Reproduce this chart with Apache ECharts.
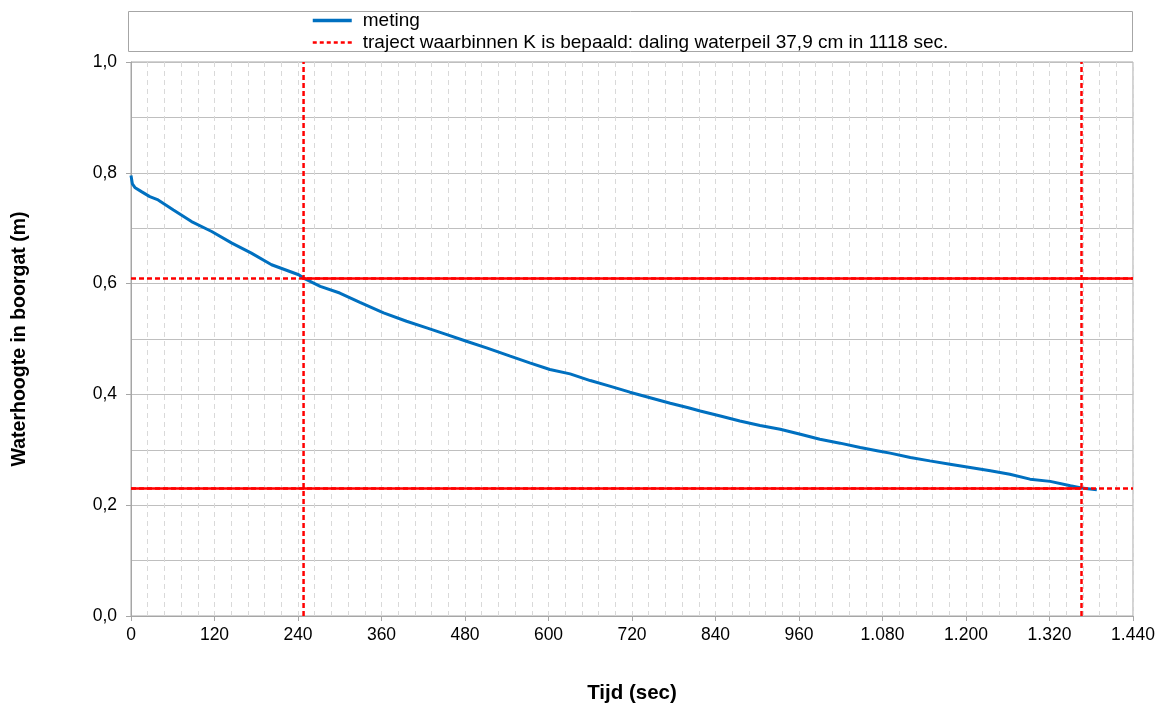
<!DOCTYPE html>
<html>
<head>
<meta charset="utf-8">
<script src="https://cdn.jsdelivr.net/npm/echarts@6/dist/echarts.min.js"></script>
<style>
  html, body { margin: 0; padding: 0; background: #fff; }
  #chart { width: 1169px; height: 709px; }
</style>
</head>
<body>
<div id="chart"></div>
<script>
// Falling-head test: water level in the borehole over time
const timeSec = [0, 2, 6, 15, 27, 39, 61, 87, 116, 145, 173, 202, 241, 248, 272, 300, 329, 363,
  396, 425, 454, 482, 511, 545, 573, 602, 631, 660, 688, 717, 746, 775, 801, 818, 847, 875,
  904, 933, 962, 990, 1019, 1048, 1074, 1091, 1120, 1148, 1177, 1206, 1235, 1263, 1292,
  1321, 1350, 1366, 1388];
const levelM = [0.795, 0.780, 0.773, 0.766, 0.757, 0.751, 0.733, 0.712, 0.694, 0.673, 0.655,
  0.634, 0.616, 0.610, 0.595, 0.583, 0.566, 0.547, 0.532, 0.520, 0.508, 0.496, 0.484, 0.469,
  0.457, 0.445, 0.437, 0.425, 0.415, 0.404, 0.394, 0.384, 0.376, 0.370, 0.361, 0.352, 0.344,
  0.337, 0.328, 0.319, 0.312, 0.304, 0.298, 0.294, 0.286, 0.280, 0.274, 0.268, 0.262, 0.256,
  0.247, 0.243, 0.235, 0.231, 0.228];

// Interval used to determine K
const rangeStartSec = 248;
const rangeEndSec = 1366;
const rangeTopM = 0.609;
const rangeBottomM = 0.230;

const xMax = 1440;
const yMax = 1.0;

const seriesMeting = 'meting';
const seriesRange = 'traject waarbinnen K is bepaald: daling waterpeil 37,9 cm in 1118 sec.';

const FONT = 'Liberation Sans, Arial, sans-serif';
const RED = '#FF0000';
const BLUE = '#0070C0';
const dash = [5, 3];

function redLine(points, type) {
  return {
    name: seriesRange,
    type: 'line',
    data: points,
    symbol: 'none',
    silent: true,
    animation: false,
    itemStyle: { color: RED },
    lineStyle: { color: RED, width: 2.5, type: type || dash },
    z: 3
  };
}

const chart = echarts.init(document.getElementById('chart'), null, { renderer: 'canvas' });

chart.setOption({
  backgroundColor: '#fff',
  animation: false,
  graphic: [{
    type: 'rect',
    shape: { x: 128.5, y: 11.5, width: 1004, height: 40 },
    style: { fill: '#fff', stroke: '#A6A6A6', lineWidth: 1 },
    z: -1
  }],
  legend: {
    left: 311,
    top: 11,
    orient: 'vertical',
    itemWidth: 39,
    itemHeight: 14,
    itemGap: 3,
    padding: 0,
    itemStyle: { opacity: 0 },
    textStyle: { fontFamily: FONT, fontSize: 19, lineHeight: 18, color: '#000', padding: [0, 0, 0, 6] },
    data: [
      { name: seriesMeting, lineStyle: { width: 3.5, color: BLUE, type: 'solid' } },
      { name: seriesRange, lineStyle: { width: 2.5, color: RED, type: [4, 3] } }
    ]
  },
  grid: {
    left: 131, right: 36, top: 62, bottom: 92,
    show: true, borderColor: '#A6A6A6', borderWidth: 1, backgroundColor: 'transparent'
  },
  xAxis: {
    type: 'value',
    min: 0, max: xMax, interval: 120,
    name: 'Tijd (sec)',
    nameLocation: 'middle',
    nameGap: 67,
    nameTextStyle: { fontFamily: FONT, fontSize: 20.5, fontWeight: 'bold', color: '#000' },
    axisLine: { lineStyle: { color: '#A6A6A6', width: 1 } },
    axisTick: { show: true, inside: false, length: 5, lineStyle: { color: '#A6A6A6' } },
    axisLabel: {
      fontFamily: FONT, fontSize: 17.5, color: '#000', margin: 10,
      formatter: v => v >= 1000 ? Math.floor(v / 1000) + '.' + String(v % 1000).padStart(3, '0') : String(v)
    },
    splitLine: { show: true, lineStyle: { color: '#D9D9D9', type: [5, 4], width: 1 } },
    minorTick: { show: false, splitNumber: 5 },
    minorSplitLine: { show: true, lineStyle: { color: '#D9D9D9', type: [5, 4], width: 1 } }
  },
  yAxis: {
    type: 'value',
    min: 0, max: yMax, interval: 0.2,
    name: 'Waterhoogte in boorgat (m)',
    nameLocation: 'middle',
    nameGap: 101,
    nameRotate: 90,
    nameTextStyle: { fontFamily: FONT, fontSize: 19.5, fontWeight: 'bold', color: '#000' },
    axisLine: { show: true, lineStyle: { color: '#A6A6A6', width: 1 } },
    axisTick: { show: true, inside: false, length: 5, lineStyle: { color: '#A6A6A6' } },
    axisLabel: {
      fontFamily: FONT, fontSize: 17.5, color: '#000', margin: 14,
      formatter: v => v.toFixed(1).replace('.', ',')
    },
    splitLine: { show: true, lineStyle: { color: '#BFBFBF', width: 1 } },
    minorTick: { show: false, splitNumber: 2 },
    minorSplitLine: { show: true, lineStyle: { color: '#BFBFBF', width: 1 } }
  },
  series: [
    {
      name: seriesMeting,
      type: 'line',
      data: timeSec.map((t, i) => [t, levelM[i]]),
      symbol: 'none',
      lineStyle: { color: BLUE, width: 3 },
      itemStyle: { color: BLUE },
      z: 2
    },
    redLine([[rangeStartSec, 0], [rangeStartSec, yMax]]),
    redLine([[rangeEndSec, 0], [rangeEndSec, yMax]]),
    redLine([[0, rangeTopM], [xMax, rangeTopM]]),
    redLine([[0, rangeBottomM], [xMax, rangeBottomM]]),
    // overlapping dashes along the measured interval read as a continuous line
    redLine([[rangeStartSec, rangeTopM], [xMax, rangeTopM]], 'solid'),
    redLine([[0, rangeBottomM], [rangeEndSec, rangeBottomM]], 'solid')
  ]
});
</script>
</body>
</html>
